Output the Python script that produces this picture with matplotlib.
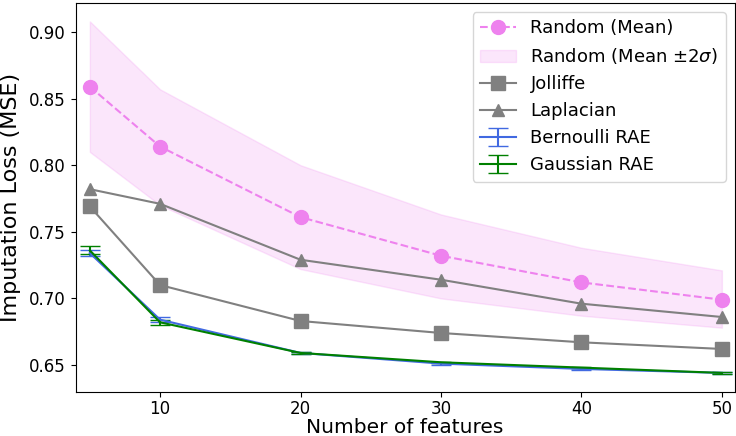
import matplotlib.pyplot as plt

n_features = [5, 10, 20, 30, 40, 50]

random_mean = [0.859, 0.814, 0.761, 0.732, 0.712, 0.699]
random_upper = [0.908, 0.857, 0.800, 0.763, 0.738, 0.721]
random_lower = [0.810, 0.770, 0.722, 0.700, 0.687, 0.678]

jolliffe = [0.769, 0.710, 0.683, 0.674, 0.667, 0.662]
laplacian = [0.782, 0.771, 0.729, 0.714, 0.696, 0.686]

bernoulli = [0.734, 0.684, 0.659, 0.651, 0.647, 0.644]
bernoulli_err = [0.002, 0.002, 0.0008, 0.0008, 0.0008, 0.0008]
gaussian = [0.736, 0.682, 0.659, 0.652, 0.648, 0.644]
gaussian_err = [0.003, 0.002, 0.0008, 0.0005, 0.0005, 0.0005]

fig = plt.figure(figsize=(7.36, 4.36), dpi=100)
ax = fig.add_axes([0.103, 0.101, 0.895, 0.892])

ax.plot(n_features, random_mean, '--o', color='violet', markersize=10, label='Random (Mean)')
ax.fill_between(n_features, random_lower, random_upper, color='violet', alpha=0.2, label=r'Random (Mean $\pm 2\sigma$)')
ax.plot(n_features, jolliffe, '-s', color='gray', markersize=10, label='Jolliffe')
ax.plot(n_features, laplacian, '-^', color='gray', markersize=9, label='Laplacian')
ax.errorbar(n_features, bernoulli, yerr=bernoulli_err, color='royalblue', capsize=7, label='Bernoulli RAE')
ax.errorbar(n_features, gaussian, yerr=gaussian_err, color='green', capsize=7, label='Gaussian RAE')

ax.set_xlim(4.0, 50.9)
ax.set_ylim(0.6297, 0.9218)
ax.set_xticks([10, 20, 30, 40, 50])
ax.set_yticks([0.65, 0.70, 0.75, 0.80, 0.85, 0.90])
ax.tick_params(labelsize=12)
ax.tick_params(axis='x', pad=2.5)
ax.set_xlabel('Number of features', fontsize=14.5, labelpad=0)
ax.set_ylabel('Imputation Loss (MSE)', fontsize=16, labelpad=6)
ax.legend(loc='upper right', fontsize=13)

plt.savefig('out.png')
